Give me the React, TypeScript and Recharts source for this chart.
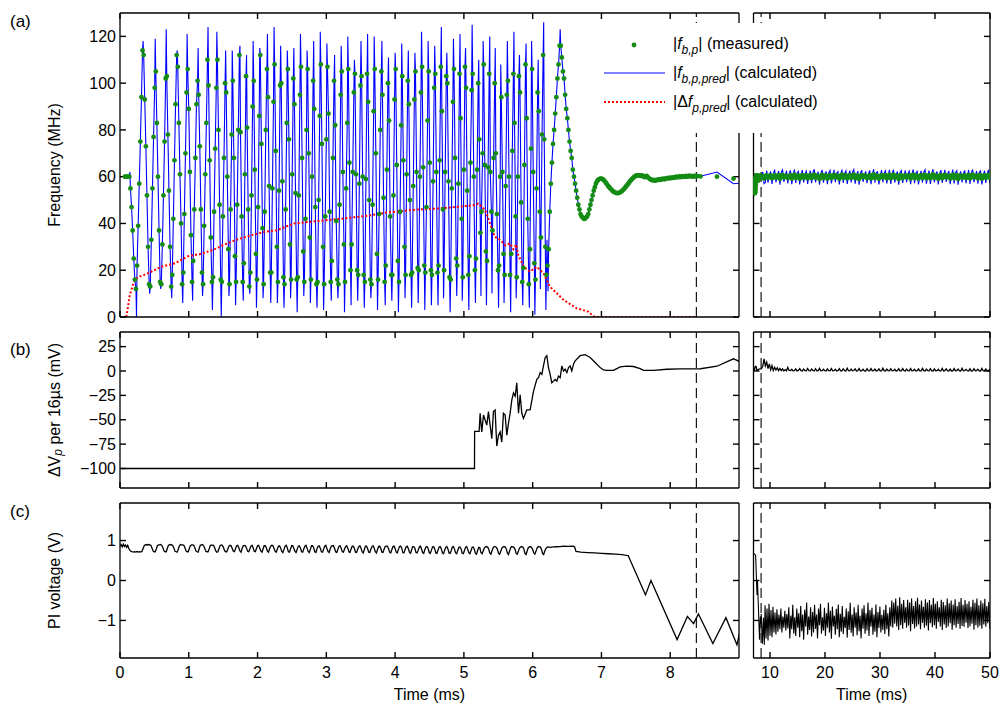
import React from 'react';
import { ComposedChart, Line, Scatter, XAxis, YAxis, ReferenceLine, Legend } from 'recharts';

type Pt = { t: number; v: number };

const BLUE = '#0000ff';
const GREEN = '#148c14';
const RED = '#ff0000';
const FONT = '"Liberation Sans", Arial, Helvetica, sans-serif';
const FS = 16;
const TICK_LEN = 6; // px, ticks point inward like the original figure

// ---- axes ----
const leftDomain: [number, number] = [0, 9];
const rightDomain: [number, number] = [7, 50];
const leftTicks = [0, 1, 2, 3, 4, 5, 6, 7, 8];
const rightTicks = [10, 20, 30, 40, 50];
const freqDomain: [number, number] = [0, 130];
const freqTicks = [0, 20, 40, 60, 80, 100, 120];
const dvDomain: [number, number] = [-120, 40];
const dvTicks = [-100, -75, -50, -25, 0, 25];
const piDomain: [number, number] = [-1.94, 1.94];
const piTicks = [-1, 0, 1];
const MARK_T = 8.38; // dashed marker (ms)

// ---- (a) beat frequency, 16 us samples ----
// each oscillation: measured dots going up, predicted crest, dots going down, predicted trough
const FB_T0 = 0.072;
const FB_DT = 0.016;
const fbRise: number[][] = [
  [60, 60, 60, 60, 60],
  [22, 39, 57, 75, 94, 114], [13, 33, 55, 77, 98], [14, 31, 52, 75, 102], [18, 42, 67, 91, 112],
  [19, 44, 70, 96], [24, 46, 68, 91, 101], [14, 39, 61, 83, 110], [17, 45, 72, 98],
  [15, 43, 68, 100], [14, 46, 78], [15, 48, 80, 112], [23, 61, 103], [19, 52, 90], [16, 47, 86],
  [14, 45, 80, 106],
  [19, 55, 92], [15, 54, 99], [14, 46, 83], [16, 61, 102], [17, 52, 95], [15, 42, 80],
  [16, 60, 101], [15, 50, 86], [14, 43, 76], [24, 68, 101], [14, 48, 95], [15, 55, 83],
  [31, 62, 96], [18, 57, 99], [15, 59, 104], [14, 48, 88], [16, 44, 80, 105], [22, 63, 100],
  [18, 52, 93], [15, 45, 82], [18, 61, 101], [19, 56, 93], [20, 60, 96], [19, 47, 84],
  [18, 58, 98], [22, 67, 107], [20, 62, 103], [16, 55, 92], [22, 57, 104], [17, 63, 107],
  [26, 66, 97], [25, 63, 100], [45, 70], [24, 64, 104], [37, 68, 100], [22, 60],
  [18, 56, 95], [27, 71, 104], [17, 60, 103], [21, 65, 108], [29, 72], [16, 55, 96],
  [34, 78, 112], [18],
  [29, 45, 57, 66, 74, 80, 87, 94, 102, 108, 116],
];
const fbCrest: number[] = [
  62,
  118, 119, 123, 114, 121, 115, 124, 122, 114, 114, 116, 112, 118, 115, 121,
  124, 116, 114, 115, 121, 114, 118, 122, 117, 112, 116, 120, 110, 118, 121, 120, 118, 111,
  113, 117, 114, 113, 122, 118,
  116, 124, 113, 119, 121, 115, 125, 110, 118, 120, 115, 108, 118, 122, 112, 117, 118, 110,
  126, 33,
  123,
];
const fbFall: number[][] = [
  [55, 47, 37, 25, 16, 12],
  [112, 93, 73, 52, 30, 14], [105, 83, 60, 37, 15], [103, 78, 54, 30, 13], [107, 83, 61, 40, 14],
  [106, 89, 62, 35, 15], [95, 73, 46, 19], [99, 67, 34, 15], [110, 80, 48, 16], [96, 60, 29],
  [101, 68, 26], [79, 43, 15], [81, 46, 13], [101, 63, 27], [112, 74, 38], [94, 56, 19],
  [108, 71, 30], [100, 58, 17], [106, 76, 31], [91, 53, 16], [107, 68, 28], [106, 70, 34],
  [89, 47, 14], [108, 74, 30], [107, 87, 45, 15], [82, 41, 16], [105, 62, 31], [106, 66, 20],
  [104, 61, 20], [103, 60, 18], [92, 50, 16], [106, 70, 27], [95, 51, 15], [84, 43, 18],
  [106, 65, 24], [103, 67, 30], [91, 50, 18], [105, 62, 21], [107, 64, 22], [105, 66, 20],
  [104, 62, 19], [88, 46], [100, 58, 17], [106, 68, 25], [85, 42], [98, 54, 18],
  [104, 60, 20], [76, 36], [108, 65, 28], [62, 45], [70, 44, 20], [94, 62, 27],
  [101, 60, 18], [83, 43], [96, 49, 15], [85, 42, 14], [106, 62, 23], [88, 45],
  [76, 30], [22],
  [116, 111, 105, 102, 95, 89, 85, 80, 75, 71, 68, 63, 60, 57, 54, 51, 48, 46, 44, 43, 42.5, 42, 42, 42.5, 43,
    44, 46, 48, 50, 52, 54, 55.5, 57, 58, 58.6, 59, 59.2,
    59.2, 59, 58.6, 58, 57.4, 56.8, 56.1, 55.5, 55, 54.5, 54, 53.6, 53.3, 53.1, 53, 53, 53.1, 53.3, 53.6, 54, 54.5, 55, 55.6, 56.2,
    56.8, 57.4, 58, 58.6, 59.1, 59.6, 60, 60.3, 60.5, 60.6, 60.6, 60.5, 60.3, 60.6, 60.2, 59.8, 59.9, 60.3,
    59.8, 59.4, 59, 58.8, 58.5, 58.4, 58.6, 58.3, 58.5, 58.7,
    58.6, 58.9, 58.7, 59, 59.2, 58.9, 59.1, 59.4, 59.2, 59.5, 59.3, 59.6, 59.4, 59.7, 59.5, 59.8, 60, 59.7,
    59.9, 60.1, 59.8, 60, 60.2, 59.9, 60.1, 60.3, 60, 60.2, 60.4, 60.1, 60.2, 60, 60.3, 60.1, 60.3, 60.2],
];
const fbTrough: (number | null)[] = [
  0,
  10, 12, 8, 6, 7, 9, 3, 0, 9, 5, 7, 10, 4, 8, 6,
  6, 4, 8, 2, 9, 6, 4, 3, 7, 8, 2, 5, 7, 4, 8, 3, 5, 7, 2, 8, 4, 6, 3, 5,
  5, 8, 2, 9, 7, 3, 6, 9, 5, 10, 4, 6, 2, 8, 5, 4, 1, 12, 3, 11,
  null,
];

// decimated record after the marker, every 0.24 ms
const LONG_T0 = 8.44;
const LONG_DT = 0.24;
const fbMeasLong = [
  60.1, 60, 59.2, 60.3, 60.6, 59.5, 60.2, 60.4, 59.3, 60, 60.7, 59.6,
  60.2, 60.5, 59.1, 60.4, 60.8, 59.7, 60, 60.3, 59.4, 60.1, 60.6, 59.2,
  60.3, 60.9, 59.5, 60.2, 60.4, 59.1, 60.1, 60.7, 59.6, 60, 60.5, 59.3,
  60.2, 60.6, 59.4, 60.5, 60.9, 59.6, 60.3, 60.2, 59, 60.2, 60.8, 59.5,
  60.4, 60.3, 59.2, 60.3, 60.6, 59.4, 60, 60.8, 59.7, 60.4, 60.2, 59.1,
  60.3, 60.9, 59.5, 60.1, 60.5, 59.3, 60.2, 60.6, 59.6, 60.5, 60.9, 59.4,
  60.1, 60.4, 59, 60.2, 60.7, 59.8, 60.4, 60.3, 59.4, 60, 60.6, 59.2,
  60.5, 61, 59.5, 60.4, 60.2, 59.1, 60.1, 60.7, 59.7, 60.3, 60.5, 59.3,
  60.2, 60.8, 59.3, 60, 60.9, 59.6, 60.3, 60.2, 59, 60.5, 60.6, 59.4,
  60, 60.6, 59.7, 60.2, 60.4, 59.2, 60.5, 60.9, 59.5, 60.4, 60.3, 59.1,
  60.3, 60.5, 59.5, 60.6, 60.8, 59.3, 60.1, 60.6, 59.3, 60.2, 61, 59.6,
  60.4, 60.2, 59.1, 60.3, 60.7, 59.4, 60.2, 60.8, 59.7, 60, 60.4, 59.2,
  60.2, 60.9, 59.4, 60.5, 60.6, 59, 60.4, 60.3, 59.6, 60.3, 60.6, 59.4,
  60.3, 60.7, 59.3, 60.4, 60.9, 59.7, 60, 60.4, 59.3, 60.6, 60.5, 59.1,
  60.2, 60.6, 59.5, 60.1, 60.8, 59.5,
];
const fbPredLong = [
  60.2, 62, 57, 57.5, 62.6, 57.4, 60.8, 62.2, 56.9, 61, 63, 57.6,
  60.4, 62.4, 56.6, 61.8, 62.9, 57.8, 60.2, 62.5, 57.1, 61.2, 62.7, 56.8,
  60.6, 63.1, 57.3, 61.4, 62.3, 56.7, 60.9, 62.8, 57.5, 61.1, 62.4, 56.9,
  60.3, 62.6, 57.2, 61.7, 63.2, 57.6, 60.5, 62.1, 56.6, 61.3, 62.9, 57.4,
  60.7, 62.3, 56.8, 61.6, 62.7, 57.1, 60.1, 62.9, 57.7, 61.5, 62.2, 56.7,
  60.5, 63, 57.3, 61.2, 62.5, 56.9, 60.8, 62.6, 57.5, 61.9, 63.1, 57,
  60.2, 62.4, 56.6, 61.4, 62.8, 57.8, 60.6, 62.3, 57.2, 61, 62.7, 56.8,
  60.9, 63.2, 57.4, 61.7, 62.1, 56.7, 60.3, 62.8, 57.6, 61.5, 62.5, 57.1,
  60.4, 62.9, 56.9, 61.1, 63, 57.5, 60.7, 62.2, 56.6, 61.8, 62.6, 57.3,
  60.1, 62.7, 57.7, 61.3, 62.4, 56.8, 60.9, 63.1, 57.2, 61.6, 62.3, 56.7,
  60.6, 62.5, 57.4, 61.9, 62.9, 57, 60.2, 62.6, 56.9, 61.2, 63.2, 57.6,
  60.8, 62.2, 56.7, 61.4, 62.8, 57.3, 60.5, 62.9, 57.8, 61, 62.4, 56.8,
  60.3, 63, 57.1, 61.7, 62.6, 56.6, 60.7, 62.3, 57.5, 61.3, 62.7, 57.2,
  60.5, 62.8, 56.9, 61.5, 63.1, 57.7, 60.1, 62.4, 57, 61.8, 62.5, 56.7,
  60.4, 62.6, 57.3, 61.1, 62.9, 57.4,
];

// |delta f_p,pred| (red dotted)
const dfT = [
  0.09, 0.12, 0.14, 0.17, 0.19, 0.22, 0.26, 0.35, 0.43, 0.6, 0.8, 0.99, 1.18, 1.38, 1.52, 1.69,
  1.91, 2.1, 2.27, 2.53, 2.87, 3.21, 3.6, 3.89, 4.33, 4.57, 4.8, 5.14, 5.21, 5.31, 5.38, 5.45,
  5.53, 5.6, 5.67, 5.72, 5.76, 5.79, 5.87, 5.96, 6.06, 6.16, 6.25, 6.45, 6.64, 6.81, 6.9, 8.38,
];
const dfV = [
  0, 5, 9, 12, 14, 16, 17, 18, 19, 21.5, 23, 26, 27, 29, 31, 33,
  35, 36.4, 37, 40, 41, 42, 43.3, 44.7, 46, 46.3, 46.8, 47.8, 48.5, 45.7, 40, 34.3,
  32.9, 30.7, 31.5, 29, 31, 26.5, 21.5, 19.4, 21.5, 18.6, 13, 7.3, 3.7, 2.3, 0, 0,
];

// ---- (b) delta V_p per 16 us ----
const dvT = [
  0, 5.154, 5.156, 5.222, 5.236, 5.26, 5.285, 5.309, 5.333, 5.357, 5.381, 5.406, 5.43, 5.454,
  5.478, 5.503, 5.527, 5.551, 5.575, 5.6, 5.624, 5.648, 5.672, 5.697, 5.721, 5.745, 5.769,
  5.794, 5.818, 5.842, 5.866, 5.915, 5.963, 6.012, 6.06, 6.085, 6.109, 6.133, 6.157, 6.182,
  6.206, 6.23, 6.254, 6.278, 6.303, 6.327, 6.351, 6.375, 6.4, 6.424, 6.448, 6.472, 6.497,
  6.521, 6.545, 6.569, 6.594, 6.618, 6.69, 6.763, 6.836, 6.909, 6.981, 7.03, 7.078, 7.175,
  7.224, 7.272, 7.369, 7.466, 7.563, 7.612, 7.757, 7.951, 8.145, 8.339,
];
const dvV = [
  -100, -100, -62, -62, -43.4, -62.5, -45.1, -50.3, -55.5, -41.6, -55.5, -69.4, -41.6, -39.9,
  -77, -65.9, -62.5, -72.9, -43.4, -45.1, -65.9, -53.8, -43.4, -29.5, -22.5, -26, -12.1,
  -43.4, -24.3, -43.4, -48.6, -39.9, -39.9, -20.8, -8.6, -6.9, -1.7, -3.4, 5.2, 13.9,
  15.7, 3.5, -3.4, -12.1, -10.4, -8.6, -10.4, -5.2, -6.9, 5.2, 0, 1.8, -1.7,
  3.5, 5.2, 0, 7, 10.5, 15.7, 16.7, 13.9, 8.7, 3.5, 1.1, 0.7, 0.7,
  2.5, 4.2, 4.9, 4.6, 2.5, 0.7, 0.7, 1.8, 2.1, 2.1,
];
const dvLong = [
  2.3, 4.9, 12.5, 5.2, 9.1, 2.4, 7.3, 1.2, 5.6, 0.6, 3.8, 1.1,
  3.2, 0.4, 2.6, 0.5, 2.2, 0, 1.4, 0.2, 3.6, 0.6, 0.4, 1.8,
  0.2, 0.3, 2.1, 0.1, 0.6, 2.4, 0.3, 0, 1.9, 0.4, 0.2, 2.6,
  0.3, 0.1, 2, 0.5, 0, 2.3, 0.2, 0.4, 2.7, 0.1, 0.3, 1.8,
  0.4, 0, 2.2, 0.3, 0.1, 2.5, 0.2, 0.3, 1.7, 0, 0.4, 2.4,
  0.1, 0.2, 2.1, 0.4, 0, 2.8, 0.3, 0.1, 1.9, 0.2, 0.5, 2.2,
  0, 0.3, 2.6, 0.1, 0.4, 1.8, 0.2, 0, 2.3, 0.3, 0.1, 2.5,
  0.2, 0.4, 1.9, 0, 0.3, 2.2, 0.1, 0.2, 2.9, 0.4, 0, 2,
  0.3, 0.1, 2.4, 0.2, 0.3, 1.7, 0, 0.4, 2.3, 0.1, 0.2, 2.6,
  0.4, 0, 2, 0.3, 0.1, 2.5, 0.2, 0.3, 1.8, 0, 0.4, 2.2,
  0.1, 0.2, 2.7, 0.4, 0, 1.9, 0.3, 0.1, 2.4, 0.2, 0, 2.1,
  0.3, 0.4, 1.8, 0.1, 0.2, 2.6, 0, 0.3, 2.2, 0.4, 0.1, 1.9,
  0, 0.2, 2.5, 0.3, 0.4, 2, 0.1, 0, 2.8, 0.2, 0.3, 1.7,
  0.4, 0.1, 2.3, 0, 0.2, 2.4, 0.3, 0.4, 1.9, 0.1, 0, 2.6,
  0.2, 0.3, 2.1, 0.4, 0.1, 1.8,
];

// ---- (c) PI voltage ----
const PI_DT = 0.016; // from t = 0
const piFast = [
  0.86, 0.9, 0.84, 0.91, 0.85, 0.89, 0.83, 0.88, 0.8,
  0.76, 0.73, 0.72, 0.71, 0.72, 0.71, 0.72, 0.72, 0.71, 0.72, 0.71, 0.73,
  0.8, 0.87, 0.89, 0.9, 0.89, 0.9, 0.89, 0.88, 0.82, 0.74, 0.72, 0.72,
  0.79, 0.87, 0.89, 0.89, 0.9, 0.88, 0.82, 0.74, 0.72, 0.72,
  0.8, 0.88, 0.89, 0.9, 0.89, 0.87, 0.81, 0.73, 0.72, 0.71,
  0.79, 0.87, 0.9, 0.89, 0.89, 0.88, 0.82, 0.74, 0.72, 0.72,
  0.8, 0.87, 0.89, 0.89, 0.88, 0.82, 0.74, 0.72, 0.71,
  0.8, 0.88, 0.89, 0.9, 0.87, 0.81, 0.73, 0.72, 0.72,
  0.79, 0.87, 0.89, 0.88, 0.88, 0.82, 0.74, 0.71, 0.72,
  0.8, 0.87, 0.89, 0.88, 0.83, 0.75, 0.72, 0.72,
  0.79, 0.86, 0.88, 0.87, 0.8, 0.73, 0.72,
  0.8, 0.87, 0.88, 0.82, 0.74, 0.71,
  0.8, 0.87, 0.88, 0.87, 0.81, 0.73, 0.72,
  0.79, 0.86, 0.88, 0.82, 0.73, 0.72,
  0.8, 0.87, 0.88, 0.81, 0.74, 0.71,
  0.79, 0.87, 0.87, 0.82, 0.73, 0.71,
  0.8, 0.86, 0.88, 0.87, 0.8, 0.73, 0.71,
  0.79, 0.86, 0.87, 0.81, 0.73, 0.7,
  0.78, 0.86, 0.88, 0.82, 0.72, 0.71,
  0.79, 0.87, 0.87, 0.8, 0.73, 0.7,
  0.78, 0.86, 0.87, 0.81, 0.72, 0.71,
  0.79, 0.86, 0.88, 0.81, 0.73, 0.7,
  0.78, 0.87, 0.87, 0.82, 0.72, 0.7,
  0.79, 0.86, 0.87, 0.81, 0.72, 0.71,
  0.78, 0.86, 0.88, 0.8, 0.73, 0.7,
  0.79, 0.86, 0.87, 0.87, 0.8, 0.72, 0.7,
  0.78, 0.86, 0.87, 0.81, 0.72, 0.71,
  0.78, 0.85, 0.87, 0.81, 0.72, 0.7,
  0.79, 0.86, 0.86, 0.8, 0.71, 0.7,
  0.78, 0.85, 0.87, 0.81, 0.72, 0.69,
  0.77, 0.86, 0.86, 0.8, 0.71, 0.7,
  0.78, 0.85, 0.87, 0.81, 0.72, 0.69,
  0.77, 0.85, 0.86, 0.8, 0.71, 0.7,
  0.78, 0.85, 0.86, 0.86, 0.8, 0.71, 0.69,
  0.77, 0.85, 0.86, 0.8, 0.71, 0.69,
  0.78, 0.85, 0.86, 0.81, 0.7, 0.69,
  0.77, 0.84, 0.86, 0.8, 0.71, 0.68,
  0.77, 0.85, 0.85, 0.8, 0.7, 0.69,
  0.76, 0.84, 0.86, 0.79, 0.7, 0.68,
  0.77, 0.84, 0.85, 0.8, 0.7, 0.68,
  0.76, 0.84, 0.85, 0.79, 0.69, 0.68,
  0.76, 0.84, 0.85, 0.79, 0.69, 0.67,
  0.76, 0.83, 0.85, 0.79, 0.69, 0.68,
  0.75, 0.84, 0.85, 0.78, 0.69, 0.67,
  0.76, 0.83, 0.84, 0.79, 0.68, 0.67,
  0.75, 0.83, 0.85, 0.78, 0.69, 0.67,
  0.75, 0.83, 0.84, 0.78, 0.68, 0.66,
  0.75, 0.83, 0.82, 0.7, 0.67,
  0.74, 0.81, 0.84, 0.85, 0.84, 0.79, 0.69, 0.66,
  0.74, 0.82, 0.85, 0.85, 0.83, 0.78, 0.68, 0.66,
  0.73, 0.81, 0.84, 0.85, 0.84, 0.79, 0.69, 0.65,
  0.74, 0.82, 0.85, 0.84, 0.83, 0.78, 0.68, 0.66,
  0.73, 0.81, 0.84, 0.85, 0.84, 0.79, 0.68, 0.65,
  0.74, 0.82, 0.84, 0.85, 0.83, 0.78, 0.69, 0.66,
  0.73, 0.81, 0.85, 0.84, 0.84, 0.78, 0.68, 0.65,
  0.74, 0.8, 0.83, 0.84,
];
const piSlowT = [
  6.254, 6.3, 6.35, 6.4, 6.45, 6.5, 6.59, 6.61, 6.63, 6.7, 6.8, 6.9, 7.0,
  7.1, 7.2, 7.3, 7.39, 7.64, 7.72, 8.1, 8.25, 8.34, 8.41, 8.62, 8.81, 8.97,
];
const piSlowV = [
  0.83, 0.84, 0.845, 0.85, 0.86, 0.855, 0.86, 0.84, 0.73, 0.71, 0.7, 0.69, 0.68,
  0.67, 0.66, 0.65, 0.62, -0.36, 0.0, -1.48, -0.9, -1.08, -0.84, -1.58, -0.93, -1.61,
];
const PI_LONG_T0 = 9.1;
const PI_LONG_DT = 0.18;
const piLong = [
  -0.62, -1.45, -0.7, -1.5, -0.58, -1.38, -0.74, -1.42, -0.66, -1.3, -0.8, -1.35,
  -0.72, -1.28, -0.85, -1.22, -0.7, -1.3, -0.9, -1.18, -0.76, -1.25, -0.84, -1.2,
  -0.67, -1.45, -0.88, -1.22, -0.61, -1.33, -0.92, -1.39, -0.7, -1.18, -0.82, -1.42,
  -0.64, -1.27, -0.85, -1.48, -0.73, -1.15, -0.55, -1.36, -0.9, -1.24, -0.67, -1.4,
  -0.79, -1.3, -0.61, -1.21, -0.85, -1.45, -0.7, -1.12, -0.58, -1.33, -0.92, -1.25,
  -0.68, -1.39, -0.82, -1.18, -0.55, -1.3, -0.76, -1.46, -0.65, -1.15, -0.88, -1.36,
  -0.71, -1.22, -0.6, -1.42, -0.83, -1.28, -0.64, -1.34, -0.91, -1.19, -0.7, -1.43,
  -0.77, -1.24, -0.56, -1.31, -0.85, -1.4, -0.67, -1.18, -0.8, -1.37, -0.61, -1.27,
  -0.88, -1.45, -0.7, -1.21, -0.62, -1.33, -0.82, -1.25, -0.55, -1.39, -0.74, -1.16,
  -0.68, -1.36, -0.85, -1.28, -0.6, -1.42, -0.79, -1.19, -0.65, -1.3, -0.86, -1.24,
  -0.73, -1.34, -0.61, -1.22, -0.82, -1.4, -0.67, -1.15, -0.5, -1.18, -0.55, -1.08,
  -0.45, -1.15, -0.63, -1.24, -0.42, -1.12, -0.58, -1.21, -0.49, -1.06, -0.67, -1.18,
  -0.48, -1.13, -0.55, -1.27, -0.45, -1.09, -0.64, -1.2, -0.52, -1.15, -0.43, -1.1,
  -0.6, -1.22, -0.5, -1.06, -0.66, -1.18, -0.47, -1.13, -0.55, -1.25, -0.49, -1.07,
  -0.61, -1.17, -0.44, -1.12, -0.58, -1.21, -0.52, -1.04, -0.67, -1.15, -0.48, -1.24,
  -0.54, -1.1, -0.62, -1.19, -0.45, -1.15, -0.57, -1.07, -0.5, -1.23, -0.6, -1.12,
  -0.47, -1.18, -0.64, -1.09, -0.53, -1.21, -0.44, -1.14, -0.61, -1.16, -0.49, -1.06,
  -0.58, -1.19, -0.52, -1.15, -0.66, -1.08, -0.48, -1.23, -0.56, -1.12, -0.45, -1.18,
  -0.62, -1.13, -0.5, -1.21, -0.57, -1.1, -0.46, -1.16, -0.64, -1.07, -0.53, -1.2,
];

// ---- helpers ----
const timeSeries = (t0: number, dt: number, vals: number[]): Pt[] =>
  vals.map((v, i) => ({ t: t0 + i * dt, v }));
const zipPts = (ts: number[], vs: number[]): Pt[] => ts.map((t, i) => ({ t, v: vs[i] }));
const within = (pts: Pt[], lo: number, hi: number) => pts.filter((p) => p.t >= lo && p.t <= hi);

function buildBeat() {
  const meas: Pt[] = [];
  const pred: Pt[] = [];
  let n = 0;
  const sample = (v: number) => {
    const t = FB_T0 + n * FB_DT;
    meas.push({ t, v });
    pred.push({ t, v });
    n += 1;
  };
  const turn = (v: number) => pred.push({ t: FB_T0 + (n - 0.5) * FB_DT, v });
  fbRise.forEach((rise, c) => {
    rise.forEach(sample);
    turn(fbCrest[c]);
    fbFall[c].forEach(sample);
    const tr = fbTrough[c];
    if (tr !== null) turn(tr);
  });
  return { meas, pred };
}

const beat = buildBeat();
const measAll = [...beat.meas, ...timeSeries(LONG_T0, LONG_DT, fbMeasLong)];
const predAll = [...beat.pred, ...timeSeries(LONG_T0, LONG_DT, fbPredLong)];
const dfPts = zipPts(dfT, dfV);
const dvAll = [...zipPts(dvT, dvV), ...timeSeries(LONG_T0, LONG_DT, dvLong)];
const piAll = [
  ...timeSeries(0, PI_DT, piFast),
  ...zipPts(piSlowT, piSlowV),
  ...timeSeries(PI_LONG_T0, PI_LONG_DT, piLong),
];

const minus = (v: number) => (v < 0 ? `\u2212${-v}` : `${v}`);
const greenDot = (p: any) => <circle cx={p.cx} cy={p.cy} r={2.4} fill={GREEN} />;

function SideTitle(props: any) {
  return (
    <g>
      <text x={10} y={props.tagY} fontSize={17} fill="#000">{props.tag}</text>
      <text
        transform={`translate(54,${props.cy}) rotate(-90)`}
        textAnchor="middle"
        dominantBaseline="central"
        fontSize={FS}
        fill="#000"
      >
        {props.caption}
      </text>
    </g>
  );
}

function BeatLegend() {
  return (
    <svg width={232} height={110} style={{ display: 'block', fontFamily: FONT }}>
      <rect x={0} y={0} width={232} height={110} fill="#fff" />
      <circle cx={36} cy={22} r={2.4} fill={GREEN} />
      <text x={75} y={26} fontSize={FS} fill="#000">
        |<tspan fontStyle="italic">f</tspan>
        <tspan fontStyle="italic" fontSize={12} dy={5}>b,p</tspan>
        <tspan dy={-5}>| (measured)</tspan>
      </text>
      <line x1={6} x2={67} y1={50} y2={50} stroke={BLUE} strokeWidth={1.2} />
      <text x={75} y={55} fontSize={FS} fill="#000">
        |<tspan fontStyle="italic">f</tspan>
        <tspan fontStyle="italic" fontSize={12} dy={5}>b,p,pred</tspan>
        <tspan dy={-5}>| (calculated)</tspan>
      </text>
      <line x1={6} x2={67} y1={79} y2={79} stroke={RED} strokeWidth={2} strokeDasharray="2 2" />
      <text x={75} y={84} fontSize={FS} fill="#000">
        |Δ<tspan fontStyle="italic">f</tspan>
        <tspan fontStyle="italic" fontSize={12} dy={5}>p,pred</tspan>
        <tspan dy={-5}>| (calculated)</tspan>
      </text>
    </svg>
  );
}

type PanelProps = {
  left: number;
  top: number;
  width: number;
  height: number;
  margin: { top: number; right: number; bottom: number; left: number };
  xDomain: [number, number];
  xTicks: number[];
  yDomain: [number, number];
  yTicks: number[];
  title?: React.ReactNode;
  tag?: string;
  tagY?: number;
  timeAxis?: boolean;
  children?: React.ReactNode;
};

function Panel(p: PanelProps) {
  const plotH = p.height - p.margin.top - p.margin.bottom - (p.timeAxis ? 46 : 0);
  const plotW = p.width - p.margin.left - p.margin.right - (p.title ? 120 : 0);
  const [x0, x1] = p.xDomain;
  const [y0, y1] = p.yDomain;
  // inward tick length expressed in data units of each axis
  const dyTick = (TICK_LEN * (y1 - y0)) / plotH;
  const dxTick = (TICK_LEN * (x1 - x0)) / plotW;
  const tickProps = { xAxisId: 'box', yAxisId: 'box', stroke: '#000', strokeWidth: 1.4, ifOverflow: 'visible' as const };
  const frame = { stroke: '#000', strokeWidth: 1.3 };
  return (
    <div style={{ position: 'absolute', left: p.left, top: p.top }}>
      <ComposedChart width={p.width} height={p.height} margin={p.margin}>
        <XAxis xAxisId="box" dataKey="t" type="number" orientation="bottom" mirror domain={p.xDomain}
          ticks={p.xTicks} interval={0} allowDataOverflow tick={false} tickLine={false} axisLine={frame} />
        <XAxis xAxisId="top" dataKey="t" type="number" orientation="top" mirror domain={p.xDomain}
          ticks={p.xTicks} interval={0} allowDataOverflow tick={false} tickLine={false} axisLine={frame} />
        {p.timeAxis && (
          <XAxis xAxisId="lab" dataKey="t" type="number" orientation="bottom" domain={p.xDomain} ticks={p.xTicks}
            interval={0} allowDataOverflow height={46} axisLine={false} tickLine={false} tickSize={0}
            tickMargin={9} tick={{ fontSize: FS, fill: '#000' }}
            label={{ value: 'Time (ms)', position: 'insideBottom', offset: 4, fontSize: FS, fill: '#000' }} />
        )}
        <YAxis yAxisId="box" type="number" orientation="left" mirror domain={p.yDomain}
          ticks={p.yTicks} interval={0} allowDataOverflow tick={false} tickLine={false} axisLine={frame} />
        <YAxis yAxisId="right" type="number" orientation="right" mirror domain={p.yDomain}
          ticks={p.yTicks} interval={0} allowDataOverflow tick={false} tickLine={false} axisLine={frame} />
        {p.title && (
          <YAxis yAxisId="lab" type="number" orientation="left" width={120} domain={p.yDomain}
            ticks={p.yTicks} interval={0} allowDataOverflow axisLine={false} tickLine={false} tickSize={0}
            tickMargin={4} tick={{ fontSize: FS, fill: '#000' }} tickFormatter={minus}
            label={<SideTitle tag={p.tag} tagY={p.tagY} cy={p.margin.top + plotH / 2} caption={p.title} />} />
        )}
        {p.xTicks.map((t) => (
          <ReferenceLine key={`xb${t}`} {...tickProps} segment={[{ x: t, y: y0 }, { x: t, y: y0 + dyTick }]} />
        ))}
        {p.xTicks.map((t) => (
          <ReferenceLine key={`xt${t}`} {...tickProps} segment={[{ x: t, y: y1 }, { x: t, y: y1 - dyTick }]} />
        ))}
        {p.yTicks.map((v) => (
          <ReferenceLine key={`yl${v}`} {...tickProps} segment={[{ x: x0, y: v }, { x: x0 + dxTick, y: v }]} />
        ))}
        {p.yTicks.map((v) => (
          <ReferenceLine key={`yr${v}`} {...tickProps} segment={[{ x: x1, y: v }, { x: x1 - dxTick, y: v }]} />
        ))}
        <ReferenceLine xAxisId="box" yAxisId="box" x={MARK_T} stroke="#000" strokeWidth={1.1} strokeDasharray="10 5" />
        {p.children}
      </ComposedChart>
    </div>
  );
}

const LEFT = { left: 0, width: 741, ml: 0, mr: 2 };
const RIGHT = { left: 751, width: 255, ml: 2.5, mr: 16 };
const ROW_A = { top: 0, height: 326, mt: 13, mb: 9 };
const ROW_B = { top: 330, height: 160, mt: 2, mb: 2 };
const ROW_C = { top: 500, height: 204, mt: 3, mb: 0 };

export default function App() {
  const m = (col: typeof LEFT, row: typeof ROW_A) => ({ top: row.mt, right: col.mr, bottom: row.mb, left: col.ml });
  return (
    <div style={{ position: 'absolute', left: 0, top: 0, width: 1005, height: 709, background: '#fff', fontFamily: FONT }}>
      {/* (a) frequency */}
      <Panel left={LEFT.left} top={ROW_A.top} width={LEFT.width} height={ROW_A.height} margin={m(LEFT, ROW_A)}
        xDomain={leftDomain} xTicks={leftTicks} yDomain={freqDomain} yTicks={freqTicks}
        tag="(a)" tagY={27} title="Frequency (MHz)">
        <Line xAxisId="box" yAxisId="box" data={within(predAll, -1, 9.3)} dataKey="v" type="linear"
          stroke={BLUE} strokeWidth={1.1} dot={false} activeDot={false} isAnimationActive={false} />
        <Line xAxisId="box" yAxisId="box" data={dfPts} dataKey="v" type="linear" stroke={RED}
          strokeWidth={2} strokeDasharray="2 2" dot={false} activeDot={false} isAnimationActive={false} />
        <Scatter xAxisId="box" yAxisId="box" data={within(measAll, -1, 9)} dataKey="v" fill={GREEN}
          shape={greenDot} isAnimationActive={false} />
        <Legend layout="vertical" align="center" verticalAlign="middle" content={() => <BeatLegend />}
          wrapperStyle={{ left: 598, top: 23, width: 232, height: 110, zIndex: 5 }} />
      </Panel>
      <Panel left={RIGHT.left} top={ROW_A.top} width={RIGHT.width} height={ROW_A.height} margin={m(RIGHT, ROW_A)}
        xDomain={rightDomain} xTicks={rightTicks} yDomain={freqDomain} yTicks={freqTicks}>
        <Line xAxisId="box" yAxisId="box" data={within(predAll, 6.8, 50.5)} dataKey="v" type="linear"
          stroke={BLUE} strokeWidth={1.1} dot={false} activeDot={false} isAnimationActive={false} />
        <Scatter xAxisId="box" yAxisId="box" data={within(measAll, 6.9, 50.5)} dataKey="v" fill={GREEN}
          shape={greenDot} isAnimationActive={false} />
      </Panel>

      {/* (b) delta V_p */}
      <Panel left={LEFT.left} top={ROW_B.top} width={LEFT.width} height={ROW_B.height} margin={m(LEFT, ROW_B)}
        xDomain={leftDomain} xTicks={leftTicks} yDomain={dvDomain} yTicks={dvTicks} tag="(b)" tagY={25}
        title={<>ΔV<tspan fontStyle="italic" fontSize={12} dy={4}>p</tspan><tspan dy={-4}> per 16µs (mV)</tspan></>}>
        <Line xAxisId="box" yAxisId="box" data={within(dvAll, -1, 9.3)} dataKey="v" type="linear"
          stroke="#000" strokeWidth={1.3} dot={false} activeDot={false} isAnimationActive={false} />
      </Panel>
      <Panel left={RIGHT.left} top={ROW_B.top} width={RIGHT.width} height={ROW_B.height} margin={m(RIGHT, ROW_B)}
        xDomain={rightDomain} xTicks={rightTicks} yDomain={dvDomain} yTicks={dvTicks}>
        <Line xAxisId="box" yAxisId="box" data={within(dvAll, 6.8, 50.5)} dataKey="v" type="linear"
          stroke="#000" strokeWidth={1.3} dot={false} activeDot={false} isAnimationActive={false} />
      </Panel>

      {/* (c) PI voltage */}
      <Panel left={LEFT.left} top={ROW_C.top} width={LEFT.width} height={ROW_C.height} margin={m(LEFT, ROW_C)}
        xDomain={leftDomain} xTicks={leftTicks} yDomain={piDomain} yTicks={piTicks} tag="(c)" tagY={17}
        title="PI voltage (V)" timeAxis>
        <Line xAxisId="box" yAxisId="box" data={within(piAll, -1, 9.3)} dataKey="v" type="linear"
          stroke="#000" strokeWidth={1.3} dot={false} activeDot={false} isAnimationActive={false} />
      </Panel>
      <Panel left={RIGHT.left} top={ROW_C.top} width={RIGHT.width} height={ROW_C.height} margin={m(RIGHT, ROW_C)}
        xDomain={rightDomain} xTicks={rightTicks} yDomain={piDomain} yTicks={piTicks} timeAxis>
        <Line xAxisId="box" yAxisId="box" data={within(piAll, 6.8, 50.5)} dataKey="v" type="linear"
          stroke="#000" strokeWidth={1.1} dot={false} activeDot={false} isAnimationActive={false} />
      </Panel>
    </div>
  );
}
